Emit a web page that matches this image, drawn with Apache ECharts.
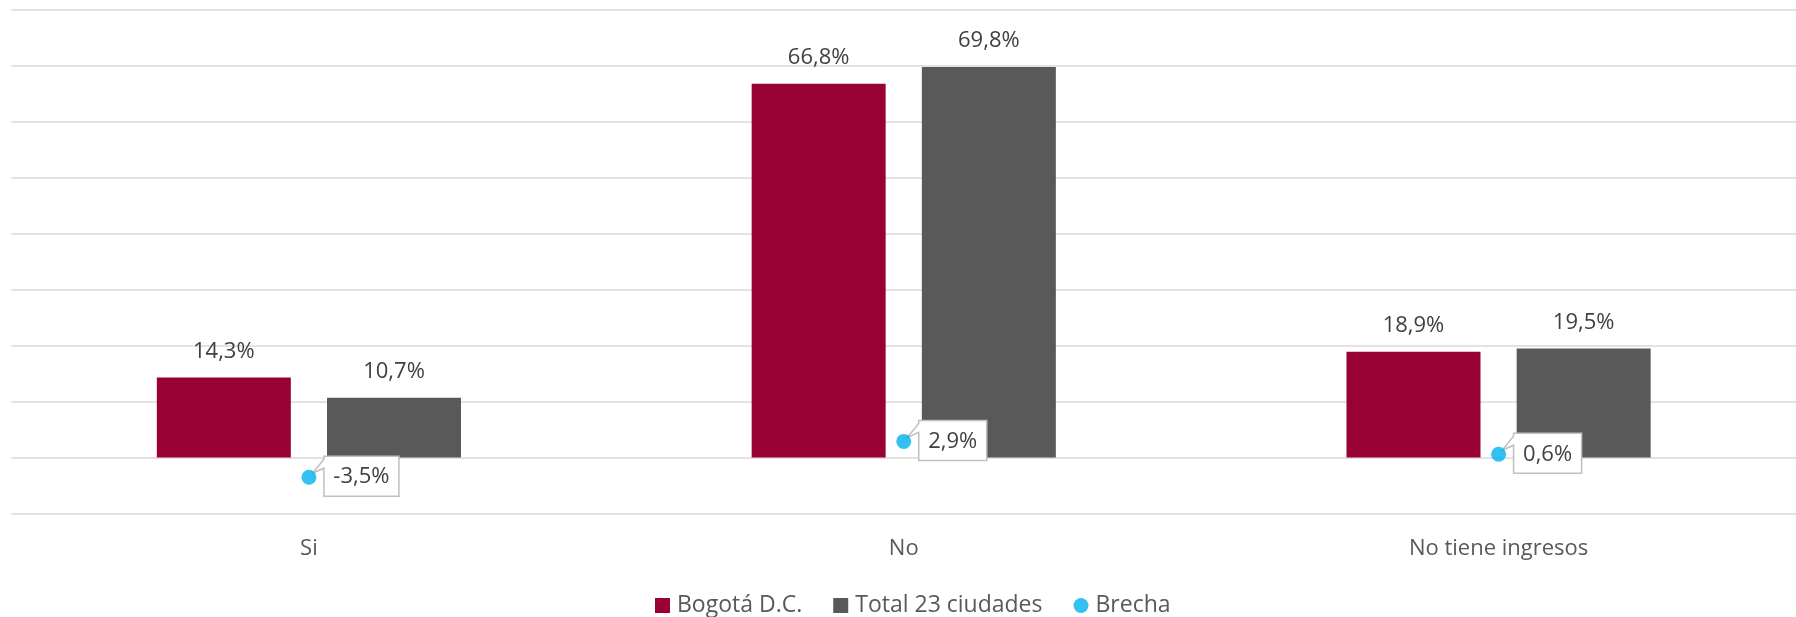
<!DOCTYPE html>
<html>
<head>
<meta charset="utf-8">
<script src="https://cdn.jsdelivr.net/npm/echarts@6/dist/echarts.min.js"></script>
<style>
html,body{margin:0;padding:0;background:#fff;}
#chart{width:1796px;height:617px;}
</style>
</head>
<body>
<div id="chart"></div>
<script>
const categories = ['Si', 'No', 'No tiene ingresos'];
const bogota = [14.3, 66.8, 18.9];
const total23 = [10.7, 69.8, 19.5];
const brecha = [-3.5, 2.9, 0.6];
const seriesNames = ['Bogotá D.C.', 'Total 23 ciudades', 'Brecha'];

const FONT = '"Open Sans", "Noto Sans", sans-serif';
const FS = 22;
const fmt = v => v.toFixed(1).replace('.', ',') + '%';

const measureCtx = document.createElement('canvas').getContext('2d');
function textWidth(t) {
  measureCtx.font = FS + 'px "Open Sans"';
  return measureCtx.measureText(t).width;
}

function renderCallout(params, api) {
  const val = api.value(1);
  const p = api.coord([api.value(0), val]);
  const px = p[0], py = p[1];
  const label = fmt(val);
  const w = Math.round(textWidth(label) + 19);
  const h = 40;
  const bx = px + 15, by = py - 21;
  const tipX = px + 3.5, tipY = py - 4;
  return {
    type: 'group',
    children: [
      {
        type: 'polygon',
        shape: { points: [[bx, by], [bx + w, by], [bx + w, by + h], [bx, by + h], [bx, by + 12], [tipX, tipY], [bx, by + 3]] },
        style: { fill: '#fff', stroke: '#bfbfbf', lineWidth: 1.5 }
      },
      {
        type: 'text',
        x: bx + w / 2, y: by + h / 2 + 1,
        style: { text: label, fill: '#404040', font: FS + 'px ' + FONT, align: 'center', verticalAlign: 'middle' }
      }
    ]
  };
}

const chart = echarts.init(document.getElementById('chart'));
chart.setOption({
  animation: false,
  backgroundColor: '#fff',
  textStyle: { fontFamily: FONT },
  grid: { left: 11.5, width: 1796, top: 9.8, height: 503.8, containLabel: false },
  legend: {
    left: 655, top: 594, padding: 0,
    itemWidth: 15, itemHeight: 15, itemGap: 31,
    textStyle: { fontFamily: FONT, fontSize: 23, color: '#595959', padding: [0, 0, 0, 2] },
    data: [
      { name: seriesNames[0], icon: 'rect' },
      { name: seriesNames[1], icon: 'rect' },
      { name: seriesNames[2], icon: 'circle' }
    ]
  },
  xAxis: {
    type: 'category',
    data: categories,
    axisLine: { show: false },
    axisTick: { show: false },
    axisLabel: { fontFamily: FONT, fontSize: FS, color: '#595959', margin: 24 }
  },
  yAxis: {
    type: 'value',
    min: -10, max: 80, interval: 10,
    axisLabel: { show: false },
    axisLine: { show: false },
    axisTick: { show: false },
    splitLine: { lineStyle: { color: '#d9d9d9', width: 1.5 } }
  },
  series: [
    {
      name: seriesNames[0], type: 'bar', data: bogota,
      barWidth: 134, barGap: '27%',
      itemStyle: { color: '#990033' },
      label: { show: true, position: 'top', distance: 15, fontFamily: FONT, fontSize: FS, color: '#404040', formatter: p => fmt(p.value) }
    },
    {
      name: seriesNames[1], type: 'bar', data: total23,
      barWidth: 134,
      itemStyle: { color: '#595959' },
      label: { show: true, position: 'top', distance: 15, fontFamily: FONT, fontSize: FS, color: '#404040', formatter: p => fmt(p.value) }
    },
    {
      name: seriesNames[2], type: 'scatter', data: brecha,
      symbol: 'circle', symbolSize: 15, z: 6,
      itemStyle: { color: '#00B0F0' }
    },
    {
      type: 'custom', z: 5,
      data: brecha.map((v, i) => [i, v]),
      renderItem: renderCallout
    }
  ]
});
</script>
</body>
</html>
